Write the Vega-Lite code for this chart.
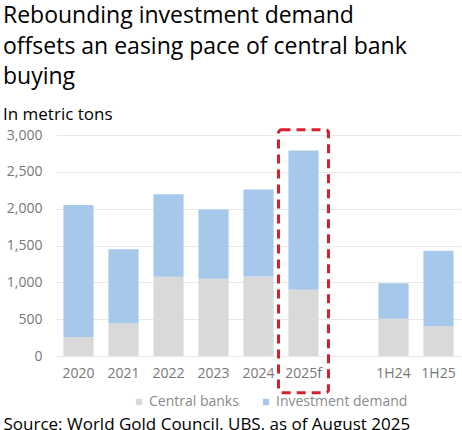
{
  "$schema": "https://vega.github.io/schema/vega-lite/v6.json",
  "width": 405,
  "height": 221,
  "padding": {"left": 3, "top": 5, "right": 1, "bottom": 0},
  "background": "white",
  "title": {
    "text": ["Rebounding investment demand", "offsets an easing pace of central bank", "buying"],
    "subtitle": "In metric tons",
    "anchor": "start",
    "frame": "bounds",
    "font": "Open Sans",
    "fontSize": 23,
    "fontWeight": "normal",
    "color": "#000000",
    "lineHeight": 30.5,
    "subtitleFont": "Open Sans",
    "subtitleFontSize": 17,
    "subtitleColor": "#000000",
    "subtitlePadding": 18,
    "offset": 5
  },
  "config": {
    "view": {"stroke": null},
    "font": "Open Sans",
    "axis": {"labelFont": "Open Sans", "labelFontSize": 14, "labelColor": "#777777", "titleFont": "Open Sans"},
    "legend": {"labelFont": "Open Sans", "labelFontSize": 14, "labelColor": "#8a8a8a"}
  },
  "datasets": {
    "bars": [
      {"period": "2020", "series": "Central banks", "value": 255, "order": 1},
      {"period": "2020", "series": "Investment demand", "value": 1795, "order": 2},
      {"period": "2021", "series": "Central banks", "value": 445, "order": 1},
      {"period": "2021", "series": "Investment demand", "value": 1005, "order": 2},
      {"period": "2022", "series": "Central banks", "value": 1075, "order": 1},
      {"period": "2022", "series": "Investment demand", "value": 1120, "order": 2},
      {"period": "2023", "series": "Central banks", "value": 1050, "order": 1},
      {"period": "2023", "series": "Investment demand", "value": 940, "order": 2},
      {"period": "2024", "series": "Central banks", "value": 1080, "order": 1},
      {"period": "2024", "series": "Investment demand", "value": 1180, "order": 2},
      {"period": "2025f", "series": "Central banks", "value": 900, "order": 1},
      {"period": "2025f", "series": "Investment demand", "value": 1890, "order": 2},
      {"period": "1H24", "series": "Central banks", "value": 505, "order": 1},
      {"period": "1H24", "series": "Investment demand", "value": 482, "order": 2},
      {"period": "1H25", "series": "Central banks", "value": 405, "order": 1},
      {"period": "1H25", "series": "Investment demand", "value": 1025, "order": 2}
    ],
    "highlight": [
      {"period": "2025f", "lo": -500, "hi": 3070}
    ]
  },
  "layer": [
    {
      "data": {"name": "bars"},
      "mark": {"type": "bar"},
      "encoding": {
        "x": {
          "field": "period",
          "type": "nominal",
          "sort": null,
          "scale": {"domain": ["2020", "2021", "2022", "2023", "2024", "2025f", " ", "1H24", "1H25"], "paddingInner": 0.33, "paddingOuter": 0.165},
          "axis": {
            "title": "Source: World Gold Council, UBS, as of August 2025",
            "titleFont": "Open Sans",
            "titleFontSize": 17,
            "titleFontWeight": "normal",
            "titleColor": "#000000",
            "titleAnchor": null,
            "titleAlign": "left",
            "titleBaseline": "top",
            "titleX": -53,
            "titleY": 60,
            "labelAngle": 0,
            "labelPadding": 10,
            "ticks": false,
            "domain": false
          }
        },
        "y": {
          "field": "value",
          "type": "quantitative",
          "stack": "zero",
          "scale": {"domain": [0, 3000], "nice": false},
          "axis": {"title": null, "values": [0, 500, 1000, 1500, 2000, 2500, 3000], "format": ",d", "ticks": false, "domain": false, "gridColor": "#e8e8e8", "labelPadding": 14, "labelOverlap": false}
        },
        "color": {
          "field": "series",
          "type": "nominal",
          "scale": {"domain": ["Central banks", "Investment demand"], "range": ["#d9d9d9", "#a6c9eb"]},
          "legend": {
            "title": null,
            "orient": "none",
            "direction": "horizontal",
            "legendX": 76,
            "legendY": 260,
            "symbolType": "square",
            "symbolSize": 40,
            "symbolOpacity": 1,
            "labelOffset": 3,
            "columnPadding": 20
          }
        },
        "order": {"field": "order", "type": "quantitative"}
      }
    },
    {
      "data": {"name": "highlight"},
      "mark": {"type": "bar", "width": 50, "fill": "transparent", "stroke": "#d7202f", "strokeWidth": 3, "strokeDash": [9, 6], "cornerRadius": 3},
      "encoding": {
        "x": {"field": "period", "type": "nominal"},
        "y": {
          "field": "lo",
          "type": "quantitative",
          "axis": {"title": null, "values": [0, 500, 1000, 1500, 2000, 2500, 3000], "format": ",d", "ticks": false, "domain": false, "gridColor": "#e8e8e8", "labelPadding": 14, "labelOverlap": false}
        },
        "y2": {"field": "hi"}
      }
    }
  ]
}
